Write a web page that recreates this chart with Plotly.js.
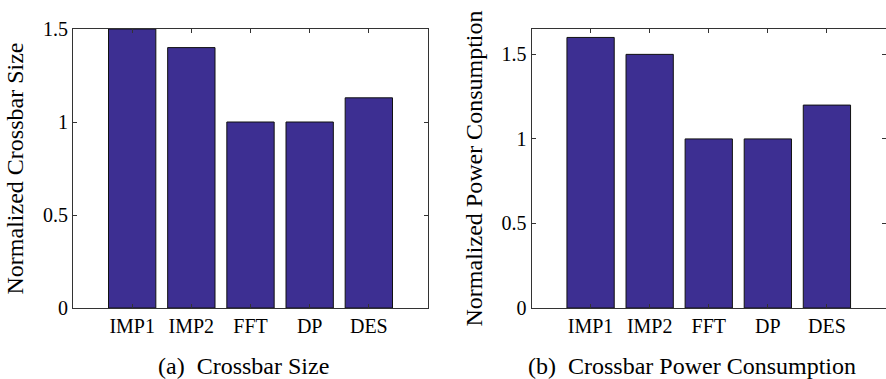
<!DOCTYPE html>
<html><head><meta charset="utf-8">
<script src="https://cdn.plot.ly/plotly-3.0.1.min.js"></script>
<style>html,body{margin:0;padding:0;background:#fff;}#chart{width:886px;height:379px;}</style>
</head><body><div id="chart"></div>
<script>
const categories = ["IMP1", "IMP2", "FFT", "DP", "DES"];
const crossbarSize = [1.5, 1.4, 1.0, 1.0, 1.13];
const crossbarPower = [1.6, 1.5, 1.0, 1.0, 1.2];
const yTicksA = [0, 0.5, 1, 1.5];
const yTicksB = [0, 0.5, 1, 1.5];
const titleA = "Normalized Crossbar Size";
const titleB = "Normalized Power Consumption";
const captionA = "(a)  Crossbar Size";
const captionB = "(b)  Crossbar Power Consumption";

const barColor = "#3d2f92";
const serif = "'Liberation Serif', serif";

const traces = [
  {type: "bar", x: categories, y: crossbarSize, xaxis: "x", yaxis: "y",
   marker: {color: barColor, line: {color: "#111", width: 1}}, hoverinfo: "none"},
  {type: "bar", x: categories, y: crossbarPower, xaxis: "x2", yaxis: "y2",
   marker: {color: barColor, line: {color: "#111", width: 1}}, hoverinfo: "none"}
];

const xCommon = {
  type: "category", range: [-1, 5], showline: true, linecolor: "#333", linewidth: 1,
  mirror: "ticks", ticks: "inside", ticklen: 4, tickcolor: "#333", showgrid: false,
  zeroline: false, tickfont: {family: serif, size: 20, color: "#000"}, fixedrange: true
};
const yCommon = {
  showline: true, linecolor: "#333", linewidth: 1, mirror: "ticks", ticks: "inside",
  ticklen: 4, tickcolor: "#333", showgrid: false, zeroline: false,
  tickfont: {family: serif, size: 20, color: "#000"}, fixedrange: true
};

const layout = {
  width: 886, height: 379, margin: {l: 0, r: 0, t: 0, b: 0},
  font: {family: serif},
  paper_bgcolor: "#fff", plot_bgcolor: "#fff", showlegend: false, bargap: 0.2,
  xaxis: Object.assign({}, xCommon, {domain: [73/886, 428/886], anchor: "y"}),
  yaxis: Object.assign({}, yCommon, {domain: [71/379, 350/379], range: [0, 1.5], anchor: "x",
    tickvals: yTicksA, ticktext: yTicksA.map(String),
    title: {text: titleA, font: {family: serif, size: 24, color: "#000"}, standoff: 12}}),
  xaxis2: Object.assign({}, xCommon, {domain: [531.5/886, 1], anchor: "y2"}),
  yaxis2: Object.assign({}, yCommon, {domain: [71/379, 350/379], range: [0, 1.65], anchor: "x2",
    tickvals: yTicksB, ticktext: yTicksB.map(String),
    title: {text: titleB, font: {family: serif, size: 24, color: "#000"}, standoff: 12}}),
  annotations: [
    {text: captionA, xref: "paper", yref: "paper", x: 243.5/886, y: 1 - 366/379,
     xanchor: "center", yanchor: "middle", showarrow: false,
     font: {family: serif, size: 24, color: "#000"}},
    {text: captionB, xref: "paper", yref: "paper", x: 692/886, y: 1 - 366/379,
     xanchor: "center", yanchor: "middle", showarrow: false,
     font: {family: serif, size: 24, color: "#000"}}
  ]
};

Plotly.newPlot("chart", traces, layout, {staticPlot: true, displayModeBar: false});
</script></body></html>
